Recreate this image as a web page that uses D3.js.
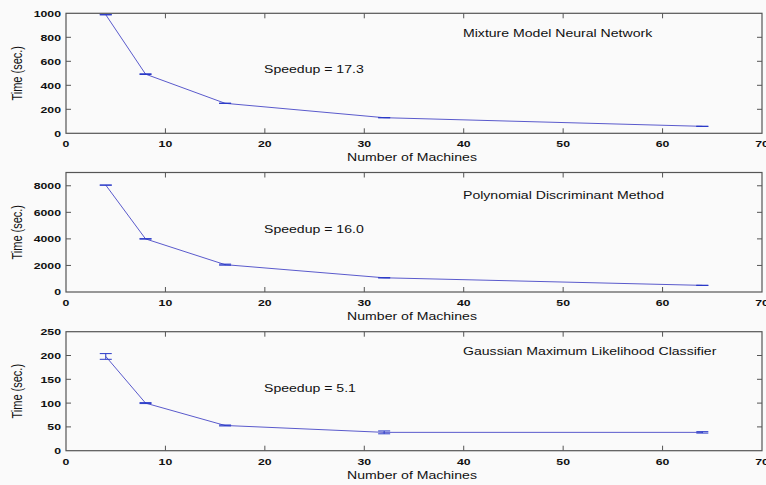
<!DOCTYPE html>
<html>
<head>
<meta charset="utf-8">
<script src="https://cdn.jsdelivr.net/npm/d3@7.9.0/dist/d3.min.js"></script>
<style>
  html, body { margin: 0; padding: 0; background: #fafafa; }
  svg { display: block; }
  text { font-family: "Liberation Sans", Arial, sans-serif; fill: #111; }
</style>
</head>
<body>
<svg id="chart" width="766" height="485"></svg>
<script>
// data
const machines = [4, 8, 16, 32, 64];

const mixtureTime = [988, 493, 250, 130, 58];
const mixtureErr = [1, 3, 1, 1, 1];

const polyTime = [8050, 4000, 2060, 1070, 500];
const polyErr = [10, 20, 40, 10, 10];

const gaussTime = [198, 100, 53, 38.5, 38.5];
const gaussErr = [6, 1, 1, 3, 1.5];

const panelTitles = ["Mixture Model Neural Network", "Polynomial Discriminant Method", "Gaussian Maximum Likelihood Classifier"];
const speedupLabels = ["Speedup = 17.3", "Speedup = 16.0", "Speedup = 5.1"];
const yMax = [1000, 9000, 250];
const yTicks = [[0, 200, 400, 600, 800, 1000], [0, 2000, 4000, 6000, 8000], [0, 50, 100, 150, 200, 250]];
const xTicks = [0, 10, 20, 30, 40, 50, 60, 70];

const series = [
  { time: mixtureTime, err: mixtureErr },
  { time: polyTime, err: polyErr },
  { time: gaussTime, err: gaussErr }
];

// layout
const left = 66, right = 762;
const panels = [
  { top: 13.3, bottom: 133.3, titleDy: 24 },
  { top: 172.5, bottom: 292, titleDy: 26 },
  { top: 331.7, bottom: 450.7, titleDy: 23.6 }
];
const sx = 1.28;          // the picture's text is stretched horizontally
const frameColor = "#555";
const lineColor = "#5a5acc";
const capColor = "#2a3ac8";

const svg = d3.select("#chart");
svg.append("rect").attr("width", 766).attr("height", 485).attr("fill", "#fafafa");

function label(g, x, y, str, opts = {}) {
  const t = g.append("text")
    .attr("transform", `translate(${x},${y}) scale(${sx},1)` + (opts.rotate ? " rotate(-90)" : ""))
    .attr("text-anchor", opts.anchor || "start")
    .attr("font-size", opts.size || 11)
    .attr("font-weight", opts.bold ? "bold" : "normal")
    .text(str);
  return t;
}

const x = d3.scaleLinear().domain([0, 70]).range([left, right]);

panels.forEach((p, i) => {
  const g = svg.append("g");
  const y = d3.scaleLinear().domain([0, yMax[i]]).range([p.bottom, p.top]);
  const s = series[i];

  // frame
  g.append("rect")
    .attr("x", left).attr("y", p.top)
    .attr("width", right - left).attr("height", p.bottom - p.top)
    .attr("fill", "none").attr("stroke", frameColor).attr("stroke-width", 1.2);

  // inward ticks on all four sides
  xTicks.slice(1, -1).forEach(v => {
    g.append("line").attr("x1", x(v)).attr("x2", x(v)).attr("y1", p.bottom).attr("y2", p.bottom - 5)
      .attr("stroke", frameColor);
    g.append("line").attr("x1", x(v)).attr("x2", x(v)).attr("y1", p.top).attr("y2", p.top + 5)
      .attr("stroke", frameColor);
  });
  yTicks[i].forEach(v => {
    if (y(v) <= p.top + 0.5 || y(v) >= p.bottom - 0.5) return;
    g.append("line").attr("x1", left).attr("x2", left + 5).attr("y1", y(v)).attr("y2", y(v))
      .attr("stroke", frameColor);
    g.append("line").attr("x1", right).attr("x2", right - 5).attr("y1", y(v)).attr("y2", y(v))
      .attr("stroke", frameColor);
  });

  // tick labels
  xTicks.forEach(v => label(g, x(v), p.bottom + 14, String(v), { anchor: "middle", bold: true, size: 9.6 }));
  yTicks[i].forEach(v => label(g, left - 5, y(v) + 3.4, String(v), { anchor: "end", bold: true, size: 9.6 }));

  // axis titles
  label(g, x(35) - 2, p.bottom + 28, "Number of Machines", { anchor: "middle" });
  label(g, 22, (p.top + p.bottom) / 2, "Time (sec.)", { anchor: "middle", rotate: true });

  // annotations
  label(g, 463, p.top + p.titleDy, panelTitles[i]);
  label(g, 264, p.top + 60, speedupLabels[i]);

  // line
  const pts = machines.map((m, k) => [m, s.time[k]]);
  g.append("path")
    .attr("d", d3.line().x(d => x(d[0])).y(d => y(d[1]))(pts))
    .attr("fill", "none").attr("stroke", lineColor).attr("stroke-width", 1);

  // error bars
  machines.forEach((m, k) => {
    const lo = y(s.time[k] - s.err[k]), hi = y(s.time[k] + s.err[k]);
    const cx = x(m), w = 6;
    g.append("line").attr("x1", cx).attr("x2", cx).attr("y1", lo).attr("y2", hi)
      .attr("stroke", capColor);
    [lo, hi].forEach(yy => g.append("line")
      .attr("x1", cx - w).attr("x2", cx + w).attr("y1", yy).attr("y2", yy)
      .attr("stroke", capColor).attr("stroke-width", 1));
  });
});
</script>
</body>
</html>
